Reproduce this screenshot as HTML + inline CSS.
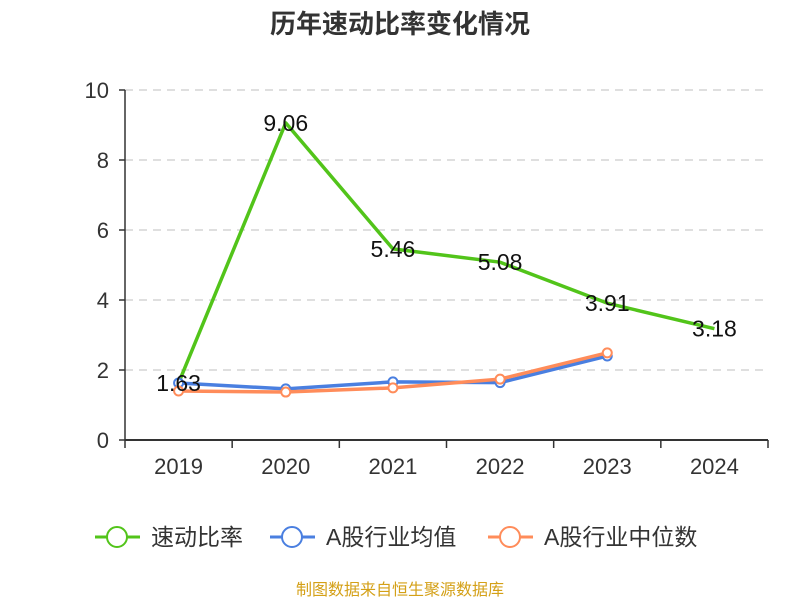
<!DOCTYPE html>
<html><head><meta charset="utf-8"><style>
body{margin:0;background:#fff;width:800px;height:600px;overflow:hidden;font-family:"Liberation Sans","Noto Sans CJK SC",sans-serif}
</style></head><body>
<svg id="chart" width="800" height="600" xmlns="http://www.w3.org/2000/svg">
<text x="400" y="33" text-anchor="middle" font-size="26" font-weight="bold" fill="#333" font-family="Liberation Sans,Noto Sans CJK SC,sans-serif">历年速动比率变化情况</text>
<g id="grid"></g><g id="axes"></g><g id="series"></g><g id="labels"></g>
<g id="legend" font-size="23" fill="#333" font-family="Liberation Sans,Noto Sans CJK SC,sans-serif"></g>
<text x="400" y="595" text-anchor="middle" font-size="16" fill="#d4a017" font-family="Liberation Sans,Noto Sans CJK SC,sans-serif">制图数据来自恒生聚源数据库</text>
</svg>
<script>
const categories=["2019","2020","2021","2022","2023","2024"];
const quickRatio=[1.63,9.06,5.46,5.08,3.91,3.18];
const industryAvg=[1.63,1.46,1.66,1.64,2.4,null];
const industryMedian=[1.4,1.37,1.49,1.74,2.49,null];
const yTicks=[0,2,4,6,8,10];
const NS="http://www.w3.org/2000/svg";
const x0=125,x1=768,yb=440,yt=90,ymax=10;
const band=(x1-x0)/categories.length;
const X=i=>x0+band*(i+0.5);
const Y=v=>yb-(v/ymax)*(yb-yt);
function mk(tag,attrs,parent){const e=document.createElementNS(NS,tag);for(const k in attrs)e.setAttribute(k,attrs[k]);document.getElementById(parent).appendChild(e);return e;}
yTicks.forEach(t=>{
  if(t>0){const g=mk('line',{x1:x0,x2:x1,y1:Y(t),y2:Y(t),stroke:'#ccc','stroke-dasharray':'8,6','stroke-width':1.3},'grid');
  
  }
  const tk=mk('line',{x1:x0-6,x2:x0,y1:Y(t),y2:Y(t),stroke:'#333','stroke-width':1.5},'axes');
  
  
  const tl=mk('text',{x:x0-16,y:Y(t)+8,'text-anchor':'end','font-size':22,fill:'#333'},'axes');tl.textContent=t;
  
  
});
const ya=mk('line',{x1:x0,x2:x0,y1:yt,y2:yb,stroke:'#333','stroke-width':1.5},'axes');


const xa=mk('line',{x1:x0,x2:x1,y1:yb,y2:yb,stroke:'#333','stroke-width':2},'axes');


for(let i=0;i<=categories.length;i++){
  const t=mk('line',{x1:x0+band*i,x2:x0+band*i,y1:yb,y2:yb+8,stroke:'#333','stroke-width':1.5},'axes');
  
  
}
categories.forEach((c,i)=>{const t=mk('text',{x:X(i),y:yb+34,'text-anchor':'middle','font-size':22,fill:'#333'},'axes');t.textContent=c;
  
  });
function series(vals,color,name,markers){
  const pts=vals.map((v,i)=>v==null?null:[X(i),Y(v)]).filter(p=>p);
  const l=mk('polyline',{points:pts.map(p=>p.join(',')).join(' '),fill:'none',stroke:color,'stroke-width':3.5,'stroke-linejoin':'round'},'series');
  
  
  if(markers)pts.forEach(p=>{const c=mk('circle',{cx:p[0],cy:p[1],r:4.5,fill:'#fff',stroke:color,'stroke-width':2},'series');
    
    });
}
series(quickRatio,'#52c41a','quick-ratio',false);
series(industryAvg,'#4a7fe0','industry-average',true);
series(industryMedian,'#ff8c5a','industry-median',true);
quickRatio.forEach((v,i)=>{const t=mk('text',{x:X(i),y:Y(v)+8,'text-anchor':'middle','font-size':23,fill:'#111'},'labels');t.textContent=v.toFixed(2);
  
  });
const leg=[["速动比率","#52c41a",95],["A股行业均值","#4a7fe0",270],["A股行业中位数","#ff8c5a",488]];
leg.forEach(([n,c,x])=>{
  const g=mk('g',{},'legend');
  
  
  const ln=document.createElementNS(NS,'line');ln.setAttribute('x1',x);ln.setAttribute('x2',x+45);ln.setAttribute('y1',537);ln.setAttribute('y2',537);ln.setAttribute('stroke',c);ln.setAttribute('stroke-width',3);g.appendChild(ln);
  const ci=document.createElementNS(NS,'circle');ci.setAttribute('cx',x+22);ci.setAttribute('cy',537);ci.setAttribute('r',10);ci.setAttribute('fill','#fff');ci.setAttribute('stroke',c);ci.setAttribute('stroke-width',2);g.appendChild(ci);
  const t=document.createElementNS(NS,'text');t.setAttribute('x',x+56);t.setAttribute('y',545);t.textContent=n;g.appendChild(t);
});
</script>
</body></html>
